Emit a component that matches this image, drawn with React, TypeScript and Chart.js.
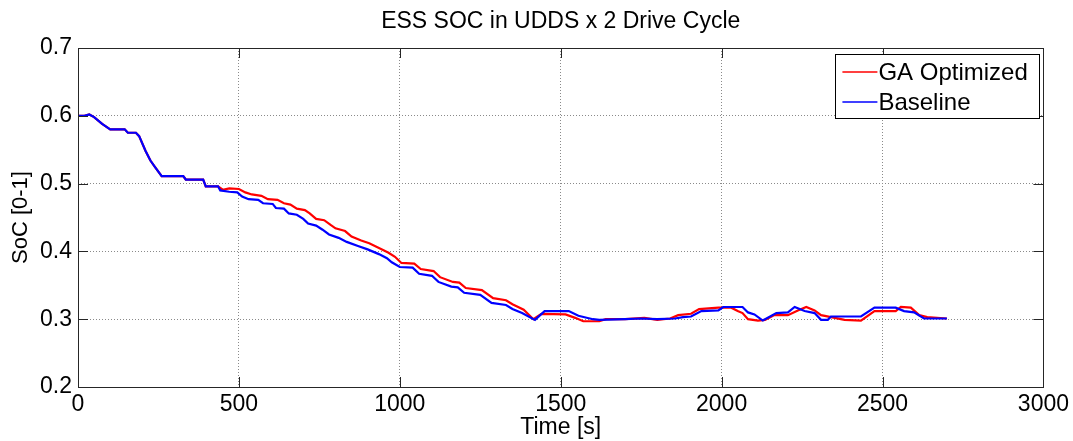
import React, { useEffect, useRef } from "react";
import { Chart, registerables } from "chart.js";

Chart.register(...registerables);

const chartTitle = "ESS SOC in UDDS x 2 Drive Cycle";
const xAxisLabel = "Time [s]";
const yAxisLabel = "SoC [0-1]";
const seriesNames = ["GA Optimized", "Baseline"];

const xTicks = [0, 500, 1000, 1500, 2000, 2500, 3000];
const yTicks = [0.2, 0.3, 0.4, 0.5, 0.6, 0.7];

const baselineTime = [
  0, 20, 35, 50, 75, 100, 145, 155, 180, 190, 210, 225, 240, 260, 327, 335, 389, 397, 435, 442,
  470, 495, 510, 530, 560, 575, 605, 615, 640, 655, 680, 700, 715, 740, 760, 780, 810, 835, 870, 900,
  935, 960, 975, 1000, 1040, 1060, 1100, 1120, 1160, 1180, 1200, 1250, 1285, 1330, 1350, 1380, 1420, 1450, 1525, 1555,
  1600, 1620, 1700, 1750, 1800, 1855, 1880, 1905, 1937, 1990, 2005, 2065, 2082, 2102, 2128, 2170, 2206, 2227, 2258, 2289,
  2309, 2330, 2340, 2433, 2475, 2541, 2567, 2598, 2629, 2700,
];
const baselineSoC = [
  0.6, 0.6, 0.602, 0.598, 0.588, 0.58, 0.58, 0.575, 0.575, 0.57, 0.548, 0.534, 0.524, 0.511, 0.511, 0.506, 0.506, 0.496, 0.496, 0.49,
  0.488, 0.487, 0.481, 0.477, 0.476, 0.471, 0.47, 0.464, 0.463, 0.456, 0.454, 0.448, 0.441, 0.438, 0.432, 0.425, 0.42, 0.414, 0.408, 0.403,
  0.396, 0.39, 0.384, 0.377, 0.376, 0.367, 0.364, 0.355, 0.348, 0.347, 0.339, 0.336, 0.324, 0.321, 0.315, 0.309, 0.299, 0.312, 0.312, 0.305,
  0.3, 0.299, 0.3, 0.301, 0.3, 0.301, 0.303, 0.304, 0.312, 0.313, 0.318, 0.318, 0.31, 0.307, 0.298, 0.309, 0.31, 0.318, 0.312, 0.309,
  0.299, 0.299, 0.304, 0.304, 0.317, 0.317, 0.312, 0.31, 0.301, 0.301,
];

const gaTime = [
  0, 20, 35, 50, 75, 100, 145, 155, 180, 190, 210, 225, 240, 260, 327, 335, 389, 397, 435, 450,
  470, 500, 520, 540, 570, 590, 620, 640, 660, 680, 705, 720, 740, 765, 785, 800, 830, 850, 880, 905,
  940, 965, 985, 1005, 1045, 1065, 1105, 1125, 1165, 1185, 1205, 1255, 1290, 1330, 1350, 1385, 1415, 1440, 1515, 1545,
  1570, 1620, 1640, 1700, 1760, 1800, 1840, 1865, 1905, 1930, 1990, 2030, 2050, 2065, 2082, 2113, 2135, 2164, 2206, 2237,
  2263, 2289, 2309, 2340, 2382, 2433, 2454, 2475, 2541, 2557, 2588, 2614, 2639, 2700,
];
const gaSoC = [
  0.6, 0.6, 0.602, 0.598, 0.588, 0.58, 0.58, 0.575, 0.575, 0.57, 0.548, 0.534, 0.524, 0.511, 0.511, 0.506, 0.506, 0.496, 0.496, 0.491,
  0.493, 0.492, 0.487, 0.484, 0.482, 0.477, 0.476, 0.471, 0.469, 0.463, 0.461, 0.456, 0.448, 0.446, 0.439, 0.434, 0.43, 0.422, 0.416, 0.412,
  0.404, 0.398, 0.392, 0.383, 0.382, 0.374, 0.371, 0.362, 0.355, 0.354, 0.346, 0.343, 0.331, 0.328, 0.322, 0.314, 0.3, 0.308, 0.307, 0.302,
  0.297, 0.297, 0.3, 0.3, 0.302, 0.299, 0.301, 0.306, 0.308, 0.315, 0.317, 0.317, 0.312, 0.309, 0.3, 0.298, 0.299, 0.306, 0.306, 0.313,
  0.318, 0.313, 0.306, 0.303, 0.299, 0.298, 0.305, 0.312, 0.312, 0.318, 0.317, 0.306, 0.303, 0.301,
];

const FONT = "'Liberation Sans', Arial, Helvetica, sans-serif";
const RED = "#ff0000";
const BLUE = "#0000ff";

const framePlugin = {
  id: "matlabFrame",
  afterDatasetsDraw(chart: any) {
    const { ctx, chartArea } = chart;
    const { left, right, top, bottom } = chartArea;
    const xs = chart.scales.x;
    const ys = chart.scales.y;
    ctx.save();
    ctx.strokeStyle = "#262626";
    ctx.lineWidth = 1;
    ctx.beginPath();
    const tl = 10;
    xTicks.forEach((v) => {
      const px = Math.round(xs.getPixelForValue(v)) + 0.5;
      ctx.moveTo(px, bottom);
      ctx.lineTo(px, bottom - tl);
      ctx.moveTo(px, top);
      ctx.lineTo(px, top + tl);
    });
    yTicks.forEach((v) => {
      const py = Math.round(ys.getPixelForValue(v)) + 0.5;
      ctx.moveTo(left, py);
      ctx.lineTo(left + tl, py);
      ctx.moveTo(right, py);
      ctx.lineTo(right - tl, py);
    });
    ctx.stroke();
    ctx.strokeRect(Math.round(left) + 0.5, Math.round(top) + 0.5, Math.round(right - left), Math.round(bottom - top));
    ctx.restore();
  },
  afterDraw(chart: any) {
    const { ctx, chartArea } = chart;
    ctx.save();
    // title, centred over the plot area
    ctx.fillStyle = "#000000";
    ctx.font = `23px ${FONT}`;
    ctx.textAlign = "center";
    ctx.textBaseline = "middle";
    ctx.fillText(chartTitle, (chartArea.left + chartArea.right) / 2, 22);

    // legend box
    const bx = chartArea.right - 208;
    const by = chartArea.top + 6;
    const bw = 204;
    const bh = 64;
    ctx.fillStyle = "#ffffff";
    ctx.fillRect(bx, by, bw, bh);
    ctx.strokeStyle = "#000000";
    ctx.lineWidth = 1;
    ctx.strokeRect(Math.round(bx) + 0.5, Math.round(by) + 0.5, bw, bh);
    const colors = [RED, BLUE];
    ctx.font = `24px ${FONT}`;
    ctx.textBaseline = "middle";
    ctx.textAlign = "left";
    seriesNames.forEach((name, i) => {
      const ly = by + 18 + i * 30;
      ctx.strokeStyle = colors[i];
      ctx.lineWidth = 1.5;
      ctx.beginPath();
      ctx.moveTo(bx + 7, ly);
      ctx.lineTo(bx + 42, ly);
      ctx.stroke();
      ctx.fillStyle = "#000000";
      ctx.fillText(name, bx + 43, ly + 1);
    });
    ctx.restore();
  },
};

export default function App() {
  const canvasRef = useRef<HTMLCanvasElement | null>(null);

  useEffect(() => {
    if (!canvasRef.current) return;
    const toPoints = (t: number[], v: number[]) => t.map((x, i) => ({ x, y: v[i] }));
    const chart = new Chart(canvasRef.current, {
      type: "line",
      data: {
        datasets: [
          {
            label: seriesNames[0],
            data: toPoints(gaTime, gaSoC),
            borderColor: RED,
            backgroundColor: RED,
            borderWidth: 2.2,
            pointRadius: 0,
            fill: false,
            tension: 0,
            order: 1,
          },
          {
            label: seriesNames[1],
            data: toPoints(baselineTime, baselineSoC),
            borderColor: BLUE,
            backgroundColor: BLUE,
            borderWidth: 2.2,
            pointRadius: 0,
            fill: false,
            tension: 0,
            order: 0,
          },
        ],
      },
      options: {
        animation: false,
        responsive: false,
        layout: { padding: { left: 0, right: 28, top: 48, bottom: 0 } },
        plugins: {
          legend: { display: false },
          tooltip: { enabled: false },
          title: { display: false },
        },
        scales: {
          x: {
            type: "linear",
            min: 0,
            max: 3000,
            afterBuildTicks: (scale: any) => {
              scale.ticks = xTicks.map((value) => ({ value }));
            },
            afterFit: (scale: any) => {
              scale.height = 54;
            },
            ticks: {
              color: "#000000",
              font: { family: FONT, size: 23 },
              padding: 4,
              maxRotation: 0,
              autoSkip: false,
              callback: (v: any) => String(v),
            },
            grid: { color: "#8a8a8a", lineWidth: 1, drawTicks: false },
            border: { display: false, dash: [1, 2] },
            title: {
              display: true,
              text: xAxisLabel,
              color: "#000000",
              font: { family: FONT, size: 23 },
              padding: { top: 0, bottom: 0 },
            },
          },
          y: {
            type: "linear",
            min: 0.2,
            max: 0.7,
            afterBuildTicks: (scale: any) => {
              scale.ticks = yTicks.map((value) => ({ value }));
            },
            afterFit: (scale: any) => {
              scale.width = 78;
            },
            ticks: {
              color: "#000000",
              font: { family: FONT, size: 23 },
              padding: 6,
              callback: (v: any) => Number(v).toFixed(1),
            },
            grid: { color: "#8a8a8a", lineWidth: 1, drawTicks: false },
            border: { display: false, dash: [1, 2] },
            title: {
              display: true,
              text: yAxisLabel,
              color: "#000000",
              font: { family: FONT, size: 22 },
              padding: { top: 8, bottom: 0 },
            },
          },
        },
      },
      plugins: [framePlugin],
    } as any);
    return () => chart.destroy();
  }, []);

  return (
    <div style={{ position: "fixed", left: 0, top: 0, width: 1073, height: 441, background: "#ffffff" }}>
      <canvas ref={canvasRef} width={1073} height={441} style={{ display: "block" }} />
    </div>
  );
}
